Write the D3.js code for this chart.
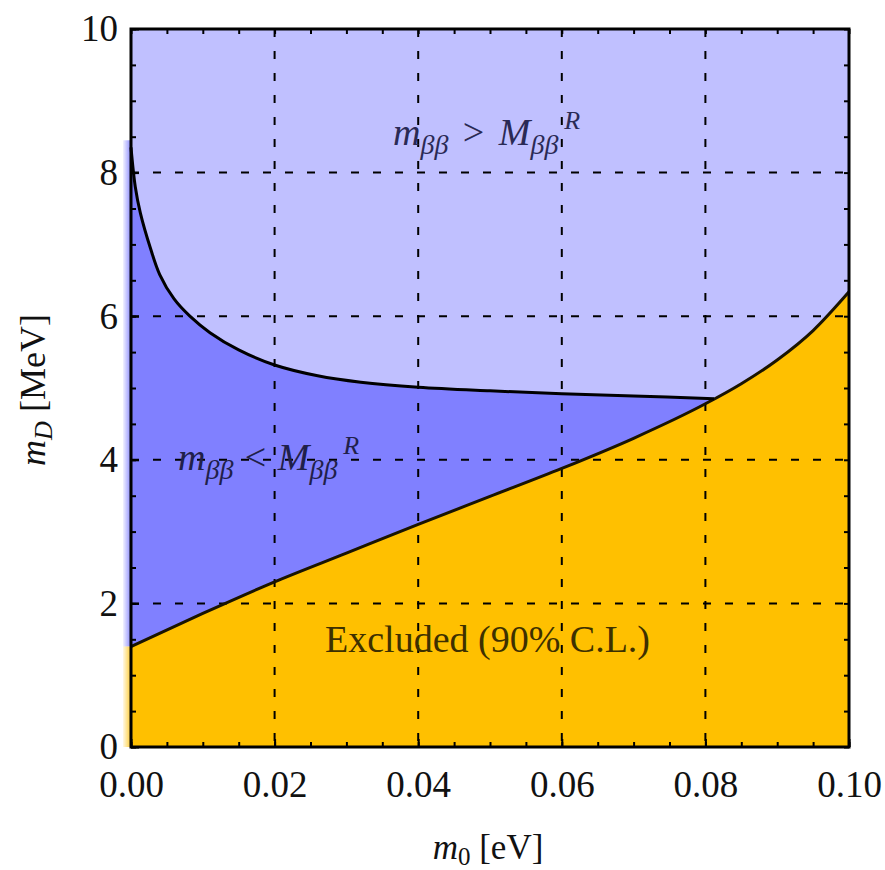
<!DOCTYPE html>
<html>
<head>
<meta charset="utf-8">
<script src="https://cdn.jsdelivr.net/npm/d3@7"></script>
<style>
  body { margin: 0; background: #fff; }
  text { font-family: "Liberation Serif", "DejaVu Serif", serif; }
</style>
</head>
<body>
<svg id="chart" width="885" height="870"></svg>
<script>
// Axis ticks
const xTicks = [0, 0.02, 0.04, 0.06, 0.08, 0.10];
const xTickLabels = ["0.00", "0.02", "0.04", "0.06", "0.08", "0.10"];
const yTicks = [0, 2, 4, 6, 8, 10];
const yTickLabels = ["0", "2", "4", "6", "8", "10"];
const xMinor = d3.range(0, 0.1001, 0.005);
const yMinor = d3.range(0, 10.01, 0.5);

// Lower boundary of the allowed region (90% C.L. exclusion), m0 [eV] -> mD [MeV]
const boundM0 = [0, 0.01, 0.02, 0.03, 0.04, 0.05, 0.06, 0.07, 0.08, 0.085, 0.09, 0.095, 0.10];
const boundMD = [1.40, 1.86, 2.30, 2.70, 3.10, 3.49, 3.88, 4.30, 4.78, 5.06, 5.39, 5.80, 6.34];

// Curve where m_bb equals M_bb^R
const equalM0 = [0, 0.0006, 0.0013, 0.0027, 0.004, 0.006, 0.0082, 0.011, 0.015, 0.02, 0.026, 0.032, 0.04, 0.05, 0.06, 0.07, 0.0812];
const equalMD = [8.35, 7.80, 7.44, 6.95, 6.58, 6.24, 6.00, 5.77, 5.53, 5.32, 5.17, 5.08, 5.01, 4.96, 4.92, 4.89, 4.85];

const colLight = "#c0c0ff";
const colDark = "#8080ff";
const colExcl = "#ffc000";

const svg = d3.select("#chart");
const margin = { left: 131, top: 29 };
const W = 718, H = 718;

const x = d3.scaleLinear().domain([0, 0.1]).range([margin.left, margin.left + W]);
const y = d3.scaleLinear().domain([0, 10]).range([margin.top + H, margin.top]);

const bound = boundM0.map((m, i) => [m, boundMD[i]]);
const equal = equalM0.map((m, i) => [m, equalMD[i]]);
const smooth = d3.curveCatmullRom.alpha(0.5);

const defs = svg.append("defs");
const gBlue = defs.append("linearGradient").attr("id", "edgeBlue").attr("x1", 0).attr("x2", 1).attr("y1", 0).attr("y2", 0);
gBlue.append("stop").attr("offset", 0).attr("stop-color", colDark).attr("stop-opacity", 0.1);
gBlue.append("stop").attr("offset", 1).attr("stop-color", colDark).attr("stop-opacity", 0.9);
const gOr = defs.append("linearGradient").attr("id", "edgeOrange").attr("x1", 0).attr("x2", 1).attr("y1", 0).attr("y2", 0);
gOr.append("stop").attr("offset", 0).attr("stop-color", colExcl).attr("stop-opacity", 0.1);
gOr.append("stop").attr("offset", 1).attr("stop-color", colExcl).attr("stop-opacity", 0.8);

// Soft edge of the fills just left of the frame
svg.append("rect")
  .attr("x", x(0) - 8).attr("width", 8)
  .attr("y", y(8.45)).attr("height", y(boundMD[0]) - y(8.45))
  .attr("fill", "url(#edgeBlue)");
svg.append("rect")
  .attr("x", x(0) - 8).attr("width", 8)
  .attr("y", y(boundMD[0])).attr("height", y(0) - y(boundMD[0]))
  .attr("fill", "url(#edgeOrange)");

// Background: m_bb > M_bb^R
svg.append("rect")
  .attr("x", x(0)).attr("y", y(10))
  .attr("width", x(0.1) - x(0)).attr("height", y(0) - y(10))
  .attr("fill", colLight);

// Region below the equality curve
svg.append("path")
  .datum(equal)
  .attr("d", d3.area().x(d => x(d[0])).y0(y(0)).y1(d => y(d[1])).curve(smooth))
  .attr("fill", colDark);

// Excluded region
svg.append("path")
  .datum(bound)
  .attr("d", d3.area().x(d => x(d[0])).y0(y(0)).y1(d => y(d[1])).curve(d3.curveMonotoneX))
  .attr("fill", colExcl);

// Dashed grid
const grid = svg.append("g").attr("fill", "none").attr("stroke", "#000").attr("stroke-width", 2).attr("stroke-dasharray", "8,14");
grid.selectAll("line.gx").data(xTicks.slice(1, -1)).join("line")
  .attr("x1", d => x(d)).attr("x2", d => x(d))
  .attr("y1", y(10)).attr("y2", y(0));
grid.selectAll("line.gy").data(yTicks.slice(1, -1)).join("line")
  .attr("y1", d => y(d)).attr("y2", d => y(d))
  .attr("x1", x(0)).attr("x2", x(0.1));

// Curves
svg.append("path")
  .datum(bound)
  .attr("d", d3.line().x(d => x(d[0])).y(d => y(d[1])).curve(d3.curveMonotoneX))
  .attr("fill", "none").attr("stroke", "#1a1400").attr("stroke-width", 3);
svg.append("path")
  .datum(equal)
  .attr("d", d3.line().x(d => x(d[0])).y(d => y(d[1])).curve(smooth))
  .attr("fill", "none").attr("stroke", "#000").attr("stroke-width", 3);

// Axes with inward ticks
function styleAxis(g) {
  g.select(".domain").remove();
  g.selectAll(".tick line").attr("stroke", "#000").attr("stroke-width", 2);
  g.selectAll(".tick text").attr("fill", "#111").attr("font-size", 37)
    .attr("font-family", "'Liberation Serif', 'DejaVu Serif', serif");
}
const xFmt = (d, i) => xTickLabels[i];
const yFmt = (d, i) => yTickLabels[i];

svg.append("g").attr("transform", `translate(0,${y(0)})`)
  .call(d3.axisBottom(x).tickValues(xTicks).tickFormat(xFmt).tickSize(-8).tickPadding(24))
  .call(styleAxis);
svg.append("g").attr("transform", `translate(0,${y(0)})`)
  .call(d3.axisBottom(x).tickValues(xMinor).tickFormat("").tickSize(-5))
  .call(styleAxis);
svg.append("g").attr("transform", `translate(0,${y(10)})`)
  .call(d3.axisTop(x).tickValues(xMinor).tickFormat("").tickSize(-5))
  .call(styleAxis);
svg.append("g").attr("transform", `translate(${x(0)},0)`)
  .call(d3.axisLeft(y).tickValues(yTicks).tickFormat(yFmt).tickSize(-8).tickPadding(13))
  .call(styleAxis);
svg.append("g").attr("transform", `translate(${x(0)},0)`)
  .call(d3.axisLeft(y).tickValues(yMinor).tickFormat("").tickSize(-5))
  .call(styleAxis);
svg.append("g").attr("transform", `translate(${x(0.1)},0)`)
  .call(d3.axisRight(y).tickValues(yMinor).tickFormat("").tickSize(-5))
  .call(styleAxis);

// Frame
svg.append("rect")
  .attr("x", x(0)).attr("y", y(10))
  .attr("width", x(0.1) - x(0)).attr("height", y(0) - y(10))
  .attr("fill", "none").attr("stroke", "#000").attr("stroke-width", 3);

// Region labels
function massLabel(tx, ty, rel, color, gap) {
  const t = svg.append("text").attr("x", tx).attr("y", ty)
    .attr("font-size", 38).attr("fill", color).attr("font-style", "italic");
  t.append("tspan").text("m");
  t.append("tspan").attr("font-size", 28).attr("dy", 9).text("ββ");
  t.append("tspan").attr("font-style", "normal").attr("dx", gap).attr("dy", -9).text(" " + rel + " ");
  t.append("tspan").attr("dx", gap).text("M");
  t.append("tspan").attr("font-size", 28).attr("dy", 9).text("ββ");
  t.append("tspan").attr("font-size", 26).attr("dx", 6).attr("dy", -25).text("R");
}
massLabel(393, 145, ">", "#2a2a55", 5);
massLabel(178, 470, "<", "#20204a", 2);

svg.append("text")
  .attr("x", 325).attr("y", 652)
  .attr("font-size", 38).attr("fill", "#3d3000")
  .text("Excluded (90% C.L.)");

// Axis titles
const xt = svg.append("text").attr("x", 488).attr("y", 859).attr("text-anchor", "middle")
  .attr("font-size", 35).attr("fill", "#111");
xt.append("tspan").attr("font-style", "italic").text("m");
xt.append("tspan").attr("font-size", 25).attr("dy", 6).text("0");
xt.append("tspan").attr("dy", -6).text(" [eV]");

const yt = svg.append("text")
  .attr("transform", "translate(45,390) rotate(-90)")
  .attr("text-anchor", "middle").attr("font-size", 36).attr("fill", "#111");
yt.append("tspan").attr("font-style", "italic").text("m");
yt.append("tspan").attr("font-size", 26).attr("font-style", "italic").attr("dy", 7).text("D");
yt.append("tspan").attr("dy", -7).text(" [MeV]");
</script>
</body>
</html>
